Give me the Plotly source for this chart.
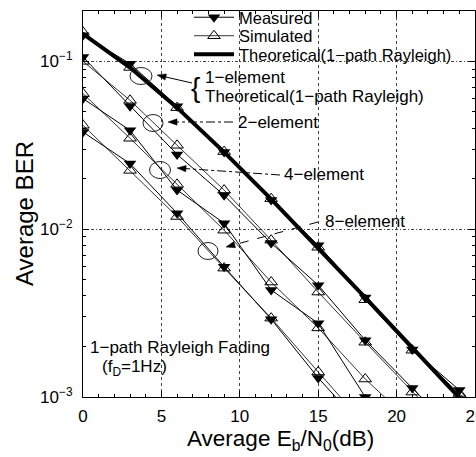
import math
import plotly.graph_objects as go

# ---------------- data ----------------
snr_th = [0, 3, 6, 9, 12, 15, 18, 21, 24, 27]
ber_theory = [0.146, 0.0918, 0.0530, 0.0288, 0.0151, 0.00773, 0.00391, 0.00197, 0.00099, 0.000497]

snr_1 = [0, 3, 6, 9, 12, 15, 18, 21, 24, 27]
meas_1 = [0.143, 0.0969, 0.054, 0.0288, 0.0149, 0.00803, 0.00392, 0.00192, 0.0011, 0.00057]
sim_1 = [0.149, 0.092, 0.053, 0.029, 0.0152, 0.0078, 0.0038, 0.0019, 0.00105, 0.00052]

snr_2 = [0, 3, 6, 9, 12, 15, 18, 21, 24]
meas_2 = [0.106, 0.054, 0.0279, 0.0159, 0.00826, 0.00464, 0.00218, 0.00113, 0.00059]
sim_2 = [0.100, 0.0586, 0.0316, 0.0171, 0.0086, 0.00422, 0.00212, 0.00107, 0.00055]

snr_4 = [0, 3, 6, 9, 12, 15, 18, 21]
meas_4 = [0.060, 0.0388, 0.0171, 0.01086, 0.00434, 0.00275, 0.00100, 0.00048]
sim_4 = [0.0642, 0.0348, 0.0185, 0.00986, 0.00484, 0.00258, 0.00128, 0.00070]

snr_8 = [0, 3, 6, 9, 12, 15, 18]
meas_8 = [0.0379, 0.0246, 0.01245, 0.00597, 0.00291, 0.00130, 0.00064]
sim_8 = [0.0416, 0.0224, 0.0119, 0.00586, 0.00295, 0.00141, 0.00068]

x_ticks = [0, 5, 10, 15, 20, 25]
y_ticks = [0.001, 0.01, 0.1]
y_ticktext = ["10<sup>\u22123</sup>", "10<sup>\u22122</sup>", "10<sup>\u22121</sup>"]
y_minor = [m * 10 ** e for e in (-3, -2, -1) for m in range(2, 10) if m * 10 ** e <= 0.2]

FONT = "Liberation Sans, Arial, sans-serif"

# ---------------- geometry helpers (pixel -> paper) ----------------
W, H = 476, 457
L, R, T, B = 83, 1, 11, 60
PW, PH = W - L - R, H - T - B


def px(x):
    return (x - L) / PW


def py(y):
    return (H - B - y) / PH


fig = go.Figure()

# theoretical (thick)
fig.add_trace(go.Scatter(
    x=snr_th, y=ber_theory, mode="lines", name="Theoretical(1\u2212path Rayleigh)",
    line=dict(color="black", width=4), legend="legend3", showlegend=True))

groups = [(snr_1, meas_1, sim_1), (snr_2, meas_2, sim_2), (snr_4, meas_4, sim_4), (snr_8, meas_8, sim_8)]
for i, (s, m, sm) in enumerate(groups):
    fig.add_trace(go.Scatter(
        x=s, y=sm, mode="lines+markers", name="Simulated",
        line=dict(color="black", width=0.8),
        marker=dict(symbol="triangle-up-open", size=11, color="black", line=dict(width=1, color="black")),
        legend="legend2", showlegend=(i == 0)))
for i, (s, m, sm) in enumerate(groups):
    fig.add_trace(go.Scatter(
        x=s, y=m, mode="lines+markers", name="Measured",
        line=dict(color="black", width=1),
        marker=dict(symbol="triangle-down", size=11, color="black"),
        legend="legend", showlegend=(i == 0)))

# ---------------- annotations ----------------
ann = []
shapes = []


def text(x, y, s, size=17):
    ann.append(dict(x=px(x), y=py(y), xref="paper", yref="paper", text=s, showarrow=False,
                    xanchor="left", yanchor="middle", font=dict(size=size, family=FONT, color="black")))


def line(x0, y0, x1, y1, dash="solid"):
    shapes.append(dict(type="line", xref="paper", yref="paper", x0=px(x0), y0=py(y0), x1=px(x1), y1=py(y1),
                       line=dict(color="black", width=1, dash=dash)))


def arrow(tailx, taily, tipx, tipy, dash="solid", head=9, half=3.2):
    dx, dy = tipx - tailx, tipy - taily
    n = math.hypot(dx, dy)
    ux, uy = dx / n, dy / n
    bx, by = tipx - head * ux, tipy - head * uy
    line(tailx, taily, bx + 2 * ux, by + 2 * uy, dash)
    p1 = (bx - half * uy, by + half * ux)
    p2 = (bx + half * uy, by - half * ux)
    path = "M {} {} L {} {} L {} {} Z".format(px(tipx), py(tipy), px(p1[0]), py(p1[1]), px(p2[0]), py(p2[1]))
    shapes.append(dict(type="path", xref="paper", yref="paper", path=path,
                       fillcolor="black", line=dict(color="black", width=0.5)))


def loop(cx, cy, w=20, h=16):
    shapes.append(dict(type="circle", xref="paper", yref="paper", x0=px(cx - w / 2), x1=px(cx + w / 2),
                       y0=py(cy + h / 2), y1=py(cy - h / 2), line=dict(color="#222", width=1)))


# 1-element
text(203, 77, "1\u2212element")
text(203, 96, "Theoretical(1\u2212path Rayleigh)")
ann.append(dict(x=px(202), y=py(87), xref="paper", yref="paper", text="{", showarrow=False,
                xanchor="right", yanchor="middle", font=dict(size=28, family="DejaVu Sans ExtraLight, Liberation Sans", color="black")))
arrow(192, 83, 157, 75)
loop(141, 76, 22, 17)

# 2-element
text(236, 122, "2\u2212element")
arrow(233, 122, 168, 122, "dashdot")
loop(153, 123, 20, 17)

# 4-element
text(282, 175, "4\u2212element")
arrow(280, 175, 177, 168, "dashdot")
loop(160, 170, 21, 17)

# 8-element
text(323, 222, "8\u2212element")
arrow(318, 222, 226, 247, "dash")
loop(208, 251, 20, 17)

# fading note
text(88, 347, "1\u2212path Rayleigh Fading")
text(100, 368, "(f<sub>D</sub>=1Hz)")

# axis titles
ann.append(dict(x=px(24), y=py(214), xref="paper", yref="paper", text="Average BER", showarrow=False,
                textangle=-90, xanchor="center", yanchor="middle", font=dict(size=24, family=FONT, color="black")))
ann.append(dict(x=px(280), y=py(440), xref="paper", yref="paper", text="Average E<sub>b</sub>/N<sub>0</sub>(dB)",
                showarrow=False, xanchor="center", yanchor="middle", font=dict(size=22.5, family=FONT, color="black")))

leg_common = dict(xanchor="left", yanchor="middle", bgcolor="rgba(0,0,0,0)", borderwidth=0,
                  font=dict(size=16.5, family=FONT, color="black"), itemwidth=40)

fig.update_layout(
    width=W, height=H, margin=dict(l=L, r=R, t=T, b=B, autoexpand=False),
    paper_bgcolor="white", plot_bgcolor="white",
    font=dict(family=FONT, color="black", size=17),
    xaxis=dict(range=[0, 25], tickvals=x_ticks, ticks="inside", ticklen=6, tickcolor="black",
               showline=True, linecolor="black", linewidth=1, mirror="ticks", automargin=False,
               showgrid=True, gridcolor="#444", griddash="dot", gridwidth=1, zeroline=False,
               tickfont=dict(size=17, family=FONT), ticklabelstandoff=4, ticklabeloverflow="allow",
               minor=dict(dtick=1, ticks="inside", ticklen=3, tickcolor="black", showgrid=False)),
    yaxis=dict(type="log", range=[-3, -0.7], tickvals=y_ticks, ticktext=y_ticktext, ticks="inside",
               ticklen=6, tickcolor="black", showline=True, linecolor="black", linewidth=1, mirror="ticks",
               automargin=False,
               showgrid=True, gridcolor="#444", griddash="3px,2px,1px,2px", gridwidth=1, zeroline=False,
               tickfont=dict(size=17, family=FONT), ticklabelstandoff=6,
               minor=dict(tickvals=y_minor, ticks="inside", ticklen=3, tickcolor="black", showgrid=False)),
    legend=dict(x=px(189), y=py(17.5), **leg_common),
    legend2=dict(x=px(189), y=py(36), **leg_common),
    legend3=dict(x=px(189), y=py(54.5), **leg_common),
    annotations=ann, shapes=shapes, showlegend=True,
)

fig.write_html("out.html")
